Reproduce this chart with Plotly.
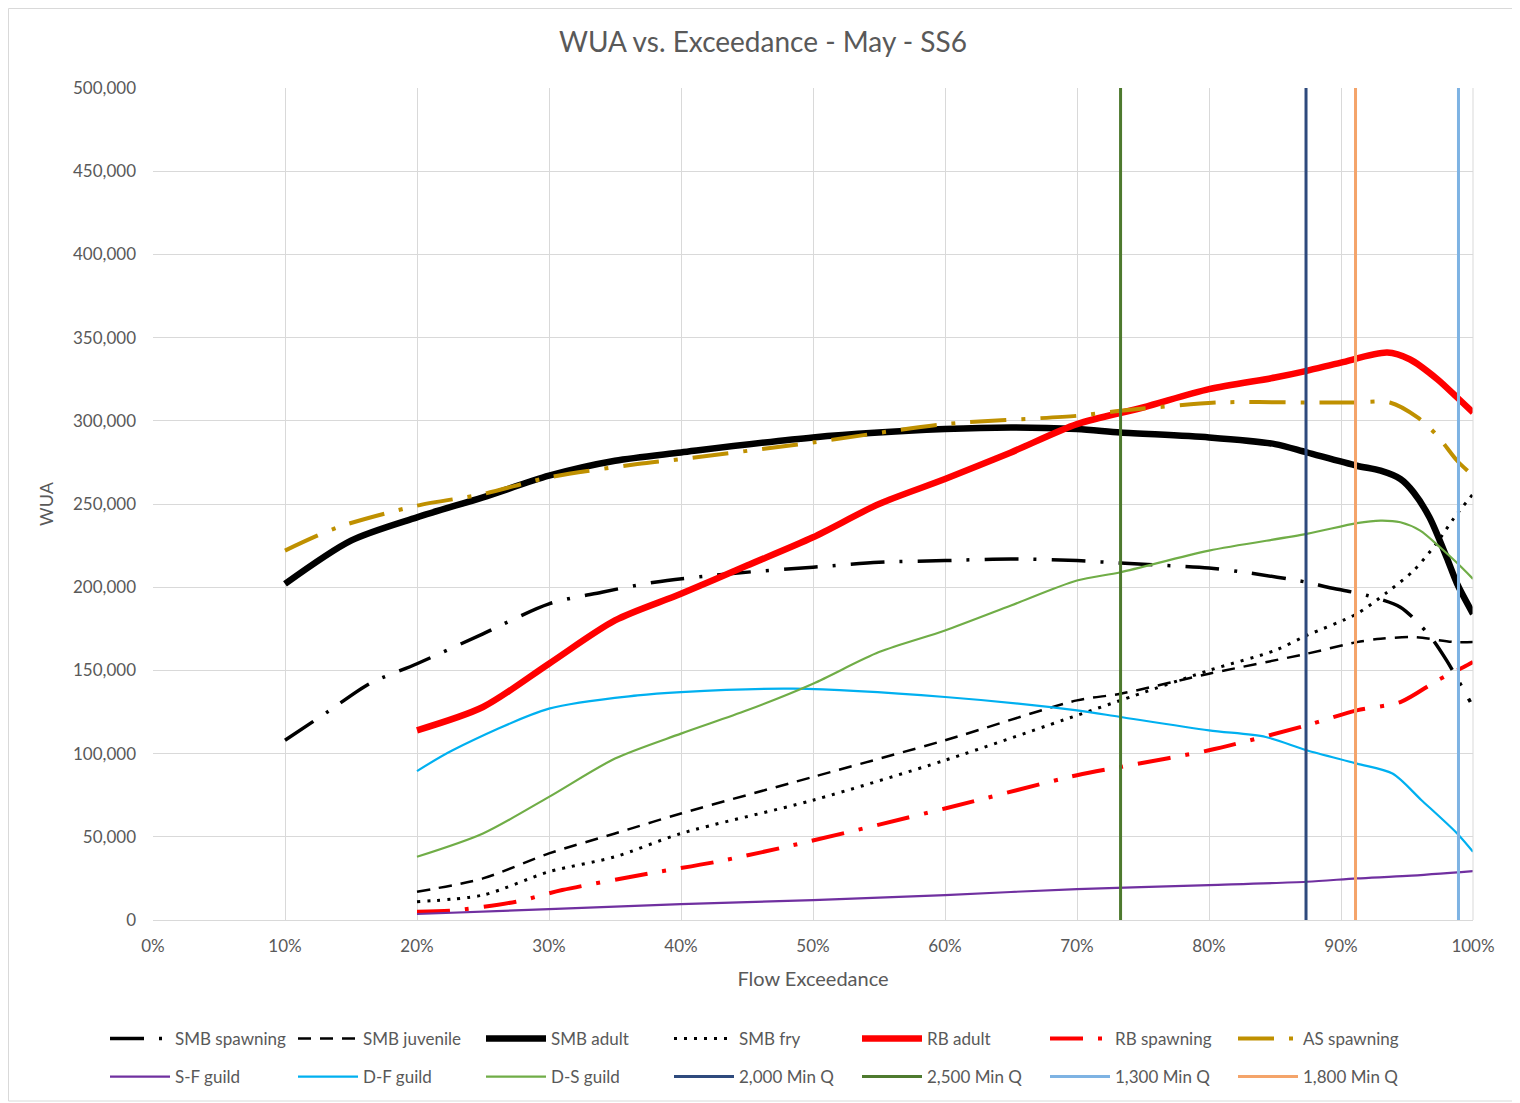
import plotly.graph_objects as go

# ---------------- data (WUA in units, exceedance in %) ----------------
smb_adult_x = [10, 15, 20, 25, 30, 35, 40, 50, 60, 65, 70, 73.3, 80, 85, 87.4, 91.2, 93, 94.5, 95.5, 96.7, 98,
               98.8, 100]
smb_adult_y = [202000, 228000, 242000, 254000, 267000, 276000, 281000, 290000, 295000, 296000, 295000, 293000,
               290000, 286000, 281000, 273000, 270000, 265000, 257000, 242000, 218000, 202000, 184000]

rb_adult_x = [20, 25, 30, 35, 40, 45, 50, 55, 60, 65, 70, 75, 80, 85, 87.4, 90, 93.5, 95.2, 97.3, 98.8, 100]
rb_adult_y = [114000, 128000, 154000, 180000, 196000, 213000, 230000, 250000, 265000, 281000, 298000, 308000,
              319000, 326000, 330000, 335000, 341000, 337000, 325000, 314000, 305000]

as_spawn_x = [10, 14, 20, 25, 30, 36.7, 40, 50, 60, 70, 73.3, 80.6, 87.4, 91, 93.7, 95.8, 97.3, 98.8, 100]
as_spawn_y = [222000, 236000, 249000, 256000, 266000, 274000, 277000, 287000, 298000, 303000, 306000, 311000,
              311000, 311000, 311000, 302000, 291000, 276000, 267000]

smb_spawn_x = [10, 13.4, 16.4, 20, 25, 30, 34, 38, 43.5, 50, 55, 60, 65, 70, 73.3, 80, 83.1, 87.4, 89, 92,
               94.5, 96.7, 98, 99.8]
smb_spawn_y = [108000, 126000, 142000, 154000, 172000, 190000, 197000, 203000, 208000, 212000, 215000, 216000,
               217000, 216000, 214500, 211500, 208500, 203000, 200000, 195000, 188000, 171000, 156000, 131000]

smb_juv_x = [20, 25, 30, 35, 40, 50, 60, 70, 73.3, 80, 87.4, 91.2, 93, 95.5, 98.6, 100]
smb_juv_y = [17000, 25000, 40000, 52000, 64000, 86000, 108000, 132000, 136000, 148000, 160000, 167000,
             169000, 170000, 167000, 167000]

smb_fry_x = [20, 25, 30, 35, 40, 50, 60, 70, 73.3, 80, 85, 87.4, 91.2, 93.5, 95.5, 97.2, 98.6, 100]
smb_fry_y = [11000, 15000, 29000, 38000, 52000, 72000, 96000, 123000, 132000, 150000, 162000, 171000, 184000,
             197000, 210000, 226000, 242000, 256000]

rb_spawn_x = [20, 22.5, 27.5, 31, 37.6, 42.7, 48.5, 60, 70, 73.3, 80, 87.4, 91.2, 94.5, 97.3, 99.3, 100]
rb_spawn_y = [5000, 5500, 11000, 18000, 28000, 35000, 45000, 67000, 87000, 92000, 102000, 117000, 126000,
              131000, 144000, 152000, 155000]

df_guild_x = [20, 22.7, 30, 36.7, 40, 48.5, 60, 70, 73.3, 80, 84.3, 87.4, 91.2, 93.9, 96.1, 98.8, 100]
df_guild_y = [89500, 102000, 127000, 135000, 137000, 139000, 134000, 126000, 122000, 114000, 110000, 102000,
              94000, 88000, 72000, 52000, 41000]

ds_guild_x = [20, 25, 30, 35, 40, 45, 50, 55, 60, 65, 70, 73.3, 80, 87.4, 91.2, 93, 94.5, 96, 97.5, 98.8, 100]
ds_guild_y = [38000, 52000, 74000, 97000, 112000, 126000, 142000, 161000, 174000, 189000, 204000, 209000,
              222000, 232000, 238500, 240000, 239000, 234000, 224000, 214500, 205000]

sf_guild_x = [20, 30, 40, 50, 60, 70, 80, 87.4, 91.2, 95, 100]
sf_guild_y = [3600, 6500, 9500, 12000, 15000, 18600, 21000, 23000, 25000, 26500, 29400]

minq_names = ["2,000 Min Q", "2,500 Min Q", "1,300 Min Q", "1,800 Min Q"]
minq_exceed = [87.35, 73.3, 98.9, 91.1]
minq_colors = ["#2E4A7D", "#4E7A2E", "#7EB3E3", "#F4A46A"]

y_ticks = list(range(0, 500001, 50000))
x_ticks = list(range(0, 101, 10))
x_tick_labels = ["0%", "10%", "20%", "30%", "40%", "50%", "60%", "70%", "80%", "90%", "100%"]

FONT = "Lato"
GREY = "#595959"

fig = go.Figure()


def add_curve(name, x, y, color, width, dash, legend):
    fig.add_trace(go.Scatter(x=x, y=y, name=name, mode="lines",
                             line=dict(color=color, width=width, dash=dash, shape="spline", smoothing=0.8),
                             legend=legend))


add_curve("SMB spawning", smb_spawn_x, smb_spawn_y, "#000000", 3.5, "34px,15px,3px,15px", "legend")
add_curve("SMB juvenile", smb_juv_x, smb_juv_y, "#000000", 2.5, "13px,9px", "legend")
add_curve("SMB adult", smb_adult_x, smb_adult_y, "#000000", 6.5, "solid", "legend")
add_curve("SMB fry", smb_fry_x, smb_fry_y, "#000000", 3, "3px,7px", "legend")
add_curve("RB adult", rb_adult_x, rb_adult_y, "#FF0000", 6.5, "solid", "legend")
add_curve("RB spawning", rb_spawn_x, rb_spawn_y, "#FF0000", 4, "33px,15px,4px,15px", "legend")
add_curve("AS spawning", as_spawn_x, as_spawn_y, "#BF9000", 4, "36px,15px,4px,15px", "legend")
add_curve("S-F guild", sf_guild_x, sf_guild_y, "#7030A0", 2.2, "solid", "legend2")
add_curve("D-F guild", df_guild_x, df_guild_y, "#00B0F0", 2.2, "solid", "legend2")
add_curve("D-S guild", ds_guild_x, ds_guild_y, "#70AD47", 2.2, "solid", "legend2")

for nm, xv, col in zip(minq_names, minq_exceed, minq_colors):
    fig.add_trace(go.Scatter(x=[xv, xv], y=[0, 500000], name=nm, mode="lines",
                             line=dict(color=col, width=3), legend="legend2"))

# page has an 8px body margin: convert reference page pixels to figure pixels
OFF = 8
W, H = 1520 - OFF, 1103 - OFF
L = 153 - OFF
T = 88 - OFF
R = W - (1473 - OFF)
B = H - (920 - OFF)
pw, ph = W - L - R, H - T - B


def px_x(p):
    return (p - OFF - L) / pw


def px_y(p):
    return (H - B - (p - OFF)) / ph


legend_common = dict(orientation="h", xanchor="left", yanchor="middle",
                     font=dict(family=FONT, size=17, color=GREY),
                     itemwidth=60, entrywidth=113, entrywidthmode="pixels",
                     bgcolor="rgba(0,0,0,0)", tracegroupgap=0)

fig.update_layout(
    width=W, height=H,
    margin=dict(l=L, r=R, t=T, b=B, autoexpand=False),
    paper_bgcolor="white", plot_bgcolor="white",
    title=dict(text="WUA vs. Exceedance - May - SS6", x=(763 - OFF) / W, xanchor="center",
               y=1 - (42 - OFF) / H, yanchor="middle", font=dict(family=FONT, size=28, color=GREY)),
    xaxis=dict(range=[0, 100], tickvals=x_ticks, ticktext=x_tick_labels, showgrid=True, gridcolor="#D9D9D9",
               gridwidth=1, zeroline=False, showline=True, linecolor="#D9D9D9", linewidth=1,
               tickfont=dict(family=FONT, size=17, color=GREY), ticks="", ticklabelstandoff=11,
               title=dict(text="Flow Exceedance", font=dict(family=FONT, size=20, color=GREY), standoff=16)),
    yaxis=dict(range=[0, 500000], tickvals=y_ticks, tickformat=",", showgrid=True, gridcolor="#D9D9D9",
               gridwidth=1, zeroline=False, showline=False,
               tickfont=dict(family=FONT, size=17, color=GREY), ticks="", ticklabelstandoff=16,
               title=dict(text="WUA", font=dict(family=FONT, size=18, color=GREY), standoff=14)),
    legend=dict(x=px_x(105), y=px_y(1039), **legend_common),
    legend2=dict(x=px_x(105), y=px_y(1077), **legend_common),
    shapes=[dict(type="line", xref="paper", yref="paper", x0=1, x1=1, y0=0, y1=1,
                 line=dict(color="#D9D9D9", width=1)),
            dict(type="rect", xref="paper", yref="paper", x0=px_x(8.5), x1=px_x(1518), y0=px_y(1101),
                 y1=px_y(8.5), line=dict(color="#D9D9D9", width=1), layer="below")],
)

fig.write_html("out.html")
